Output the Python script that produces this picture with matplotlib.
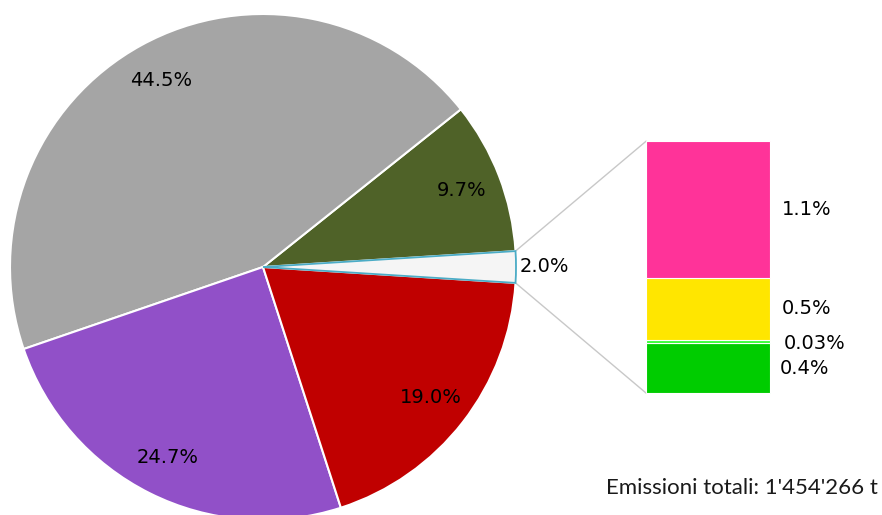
import numpy as np
import matplotlib
matplotlib.use("Agg")
import matplotlib.pyplot as plt

# pie shares, counter-clockwise starting with the small exploded slice
pie_labels = ["2.0%", "9.7%", "44.5%", "24.7%", "19.0%"]
pie_values = [2.0, 9.7, 44.5, 24.7, 19.0]
pie_colors = ["#F5F5F5", "#4F6228", "#A5A5A5", "#9150C8", "#C00000"]

# breakdown of the 2.0% slice, bottom to top
bar_labels = ["0.4%", "0.03%", "0.5%", "1.1%"]
bar_values = [0.4, 0.03, 0.5, 1.1]
bar_colors = ["#00CC00", "#33FF33", "#FFE600", "#FF3399"]

total_text = "Emissioni totali: 1'454'266 t"

W, H = 882, 515
fig = plt.figure(figsize=(W / 100, H / 100), dpi=100)
ax = fig.add_axes([0, 0, 1, 1])

cx, cy, R = 263, 248, 253
start = -pie_values[0] / sum(pie_values) * 360 / 2
wedges, _ = ax.pie(pie_values, colors=pie_colors, startangle=start, counterclock=True,
                   center=(cx, cy), radius=R, frame=True,
                   wedgeprops=dict(edgecolor="white", linewidth=1.5))
wedges[0].set_edgecolor("#4BACC6")
wedges[0].set_linewidth(1.3)
wedges[0].set_zorder(wedges[1].get_zorder() + 1)

# slice labels
for i, w in enumerate(wedges):
    mid = np.deg2rad((w.theta1 + w.theta2) / 2)
    if i == 0:
        ax.text(cx + R * 1.015 * np.cos(mid), cy + R * np.sin(mid), pie_labels[i],
                ha="left", va="center", fontsize=14, color="black")
    else:
        d = 0.84 * R
        ax.text(cx + d * np.cos(mid), cy + d * np.sin(mid), pie_labels[i],
                ha="center", va="center", fontsize=14, color="black")

# stacked bar for the breakdown
scale = 124.0          # px per percent
bx, bw, by = 708, 124, 122
bottoms = np.concatenate([[0], np.cumsum(bar_values)[:-1]]) * scale + by
heights = np.array(bar_values) * scale
ax.bar([bx] * len(bar_values), heights, bottom=bottoms, width=bw,
       color=bar_colors, edgecolor="white", linewidth=0.8, zorder=3)

offs = [(72, 0), (76, -2), (74, 0), (74, 0)]
for lab, b, h, (dx, dy) in zip(bar_labels, bottoms, heights, offs):
    ax.text(bx + dx, b + h / 2 + dy, lab, ha="left", va="center", fontsize=14, color="black")

# connector lines from the small slice to the bar
w0 = wedges[0]
top_bar = bottoms[-1] + heights[-1]
for ang, yb in ((w0.theta2, top_bar), (w0.theta1, by)):
    a = np.deg2rad(ang)
    ax.plot([cx + R * np.cos(a), bx - bw / 2], [cy + R * np.sin(a), yb],
            color="#C8C8C8", lw=1, zorder=1)

ax.text(878, 27, total_text, ha="right", va="center", fontsize=16,
        family=["Lato", "DejaVu Sans"], color="#1A1A1A")

ax.set_xlim(0, W)
ax.set_ylim(0, H)
ax.set_aspect("equal")
ax.axis("off")
fig.savefig("out.png", dpi=100)
